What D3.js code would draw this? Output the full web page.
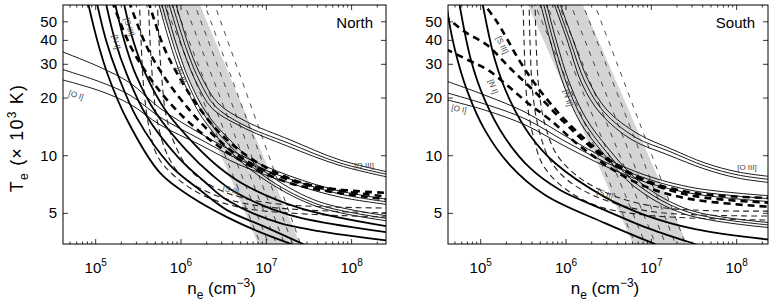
<!DOCTYPE html>
<html>
<head>
<meta charset="utf-8">
<script src="https://cdn.jsdelivr.net/npm/d3@7"></script>
<style>
body { margin: 0; background: #fff; }
svg { display: block; font-family: "Liberation Sans", Arial, Helvetica, sans-serif; }
</style>
</head>
<body>
<svg id="chart" width="774" height="307"></svg>
<script>
// values: [n_e (cm^-3), T_e (10^3 K)]
var tDomain = [3.46, 61.2];
var northDomain = [4.14e4, 2.53e8];
var southDomain = [4.14e4, 2.33e8];
var yTicks = [5, 10, 20, 30, 40, 50];
var xTickExps = [5, 6, 7, 8];

var northOIII = [
  [[7.83e5,73.5],[1.28e6,35.6],[1.81e6,24.9],[2.72e6,18.8],[5.62e6,15.2],[1.9e7,12.1],[7.31e7,9.5],[3e8,8.13]],
  [[7.05e5,73.5],[1.17e6,35.6],[1.67e6,24.3],[2.5e6,18.2],[5.19e6,14.6],[1.85e7,11.6],[7.31e7,9.16],[3e8,7.89]],
  [[6.49e5,73.5],[1.08e6,34.8],[1.54e6,23.7],[2.31e6,17.7],[4.92e6,14.3],[1.79e7,11.2],[7.31e7,8.89],[3e8,7.64]]
];
var northNII = [
  [[5.83e5,73.5],[8.51e5,40.2],[1.24e6,24.9],[2.07e6,16.3],[4.66e6,10.97],[1.17e7,7.74],[4.26e7,5.73],[3e8,4.81]],
  [[5.37e5,73.5],[7.83e5,40.2],[1.15e6,24.9],[1.91e6,16.1],[4.30e6,10.6],[1.10e7,7.46],[4.26e7,5.52],[3e8,4.67]],
  [[4.96e5,73.5],[7.23e5,40.2],[1.05e6,24.9],[1.76e6,15.9],[3.96e6,10.3],[1.05e7,7.29],[4.26e7,5.36],[3e8,4.53]]
];
var northSIII = [
  [[3.78e5,73.5],[6.15e5,37.8],[9.22e5,26.4],[1.54e6,18.4],[3.03e6,12.8],[8.0e6,9.16],[3.25e7,7.03],[3e8,6.38]],
  [[2.20e5,73.5],[3.89e5,37.8],[6.15e5,26.4],[1.05e6,19.1],[2.19e6,13.3],[5.62e6,9.5],[2.48e7,7.19],[3e8,6.08]],
  [[1.39e5,73.5],[2.52e5,37.8],[4.10e5,26.4],[7.43e5,18.8],[1.58e6,13.6],[4.30e6,9.84],[1.90e7,7.19],[3e8,5.87]]
];
var northSII = [
  [[5.24e5,73.5],[5.52e5,40.2],[5.98e5,24.9],[6.67e5,16.3],[8.51e5,11.4],[1.28e6,8.42],[2.86e6,6.62],[1.10e7,5.66],[3e8,5.33]],
  [[4.10e5,73.5],[4.33e5,40.2],[4.70e5,23.4],[5.24e5,15.4],[6.67e5,10.5],[9.73e5,8.02],[2.19e6,6.38],[8.43e6,5.46],[3e8,5.02]],
  [[3.22e5,73.5],[3.40e5,40.2],[3.68e5,22.0],[4.22e5,14.1],[5.37e5,9.84],[8.97e5,7.64],[1.91e6,6.15],[6.44e6,5.26],[3e8,4.78]]
];
var northNI = [
  [[1.98e5,73.5],[2.74e5,40.2],[3.89e5,26.4],[6.67e5,17.1],[1.46e6,11.4],[2.86e6,8.63],[5.62e6,7.03],[2.48e7,5.33],[3e8,4.24]],
  [[1.55e5,73.5],[2.15e5,40.2],[2.96e5,26.4],[5.09e5,16.7],[1.15e6,10.7],[2.31e6,7.93],[4.30e6,6.46],[1.90e7,4.90],[3e8,3.95]],
  [[1.22e5,73.5],[1.68e5,40.2],[2.33e5,26.4],[3.89e5,16.3],[9.22e5,9.84],[1.91e6,7.29],[3.46e6,5.87],[1.45e7,4.45],[3e8,3.58]],
  [[9.55e4,73.5],[1.32e5,40.2],[1.82e5,26.4],[3.05e5,15.7],[7.43e5,8.94],[1.67e6,6.62],[3.46e6,5.20],[9.66e6,4.25],[3.25e7,3.33]],
  [[7.50e4,73.5],[1.04e5,40.2],[1.39e5,26.4],[2.33e5,15.4],[5.68e5,8.13],[1.38e6,6.01],[3.46e6,4.78],[8.43e6,3.99],[2.48e7,3.33]]
];
var northOI = [
  [[3.33e4,36.1],[1.12e5,29.0],[2.52e5,24.0],[5.68e5,17.7],[1.67e6,13.1],[4.92e6,10.1],[1.90e7,7.83],[7.31e7,6.54],[3e8,5.87]],
  [[3.33e4,29.0],[1.12e5,24.3],[2.52e5,20.7],[5.68e5,15.9],[1.67e6,12.2],[4.92e6,9.5],[1.90e7,7.55],[7.31e7,6.31],[3e8,5.69]],
  [[3.33e4,25.5],[1.12e5,21.8],[2.52e5,18.6],[5.68e5,14.5],[1.67e6,11.4],[4.92e6,8.94],[1.90e7,7.19],[7.31e7,6.08],[3e8,5.52]]
];
// grey band: density at T = 65 and T = 3.3
var bandT = [65, 3.3];
var northBandLeft = [5.09e5, 8.37e6];
var northBandRight = [1.58e6, 2.60e7];
var northBandLines = [[6.15e5,8.91e6],[8.05e5,1.11e7],[1.05e6,1.37e7],[1.38e6,1.70e7],[1.81e6,2.11e7],[2.37e6,2.62e7]];
var northLabels = [
  ['[S III]', 2.46e5, 47.0, 72], ['[N I]', 1.73e5, 39.2, 78], ['[N II]', 1.0e6, 26.4, 72],
  ['[O I]', 5.88e4, 20.7, 18], ['[O III]', 1.40e8, 8.94, 0], ['[S II]', 3.85e6, 6.62, 15]
];

var southOIII = [
  [[7.43e5,73.5],[1.21e6,40.2],[1.81e6,24.9],[3.03e6,17.3],[6.98e6,13.0],[1.75e7,10.8],[4.26e7,9.16],[1.04e8,8.22],[2.8e8,7.74]],
  [[6.85e5,73.5],[1.11e6,40.2],[1.67e6,24.3],[2.79e6,16.9],[6.44e6,12.5],[1.66e7,10.5],[4.26e7,8.83],[1.04e8,7.93],[2.8e8,7.46]],
  [[6.32e5,73.5],[1.03e6,40.2],[1.54e6,23.7],[2.57e6,16.5],[5.94e6,12.1],[1.57e7,10.1],[4.26e7,8.51],[1.04e8,7.64],[2.8e8,7.19]]
];
var southNII = [
  [[5.37e5,73.5],[7.64e5,40.2],[1.11e6,23.7],[1.71e6,15.7],[3.10e6,10.97],[7.57e6,7.19],[2.84e7,5.20],[2.8e8,4.45]],
  [[4.96e5,73.5],[7.05e5,40.2],[1.03e6,23.4],[1.58e6,15.4],[2.86e6,10.7],[6.98e6,7.03],[2.69e7,5.08],[2.8e8,4.32]],
  [[4.57e5,73.5],[6.49e5,40.2],[9.48e5,23.1],[1.46e6,15.0],[2.64e6,10.5],[6.44e6,6.86],[2.48e7,4.95],[2.8e8,4.19]]
];
var southSIII = [
  [[8.13e4,73.5],[1.55e5,50.0],[2.89e5,31.0],[4.70e5,22.6],[9.73e5,15.4],[3.28e6,9.5],[8.43e6,7.46],[3.25e7,6.38],[2.8e8,6.01]],
  [[2.91e4,59.2],[6.55e4,44.3],[1.19e5,37.8],[2.20e5,28.7],[4.33e5,21.5],[8.51e5,15.7],[1.67e6,11.8],[3.75e6,8.94],[9.66e6,7.19],[3.25e7,6.15],[2.8e8,5.66]],
  [[2.91e4,38.4],[7.10e4,31.6],[1.22e5,28.0],[2.09e5,23.1],[3.59e5,18.8],[6.49e5,15.4],[1.67e6,10.7],[6.44e6,7.29],[2.48e7,6.01],[2.8e8,5.39]]
];
var southSII = [
  [[4.33e5,73.5],[4.45e5,40.2],[4.83e5,22.0],[5.68e5,14.5],[7.83e5,10.1],[1.46e6,7.64],[3.75e6,6.15],[1.45e7,5.33],[2.8e8,5.14]],
  [[3.68e5,73.5],[3.78e5,40.2],[4.10e5,20.7],[4.83e5,13.6],[6.49e5,9.5],[1.11e6,7.29],[2.86e6,5.87],[1.10e7,5.08],[2.8e8,4.84]],
  [[3.13e5,73.5],[3.22e5,40.2],[3.49e5,19.5],[4.10e5,12.8],[5.37e5,8.94],[9.22e5,6.86],[2.19e6,5.52],[8.43e6,4.90],[2.8e8,4.61]]
];
var southNI = [
  [[9.82e4,73.5],[1.47e5,31.6],[2.20e5,19.5],[3.78e5,12.8],[7.43e5,9.16],[2.86e6,6.08],[8.43e6,4.90],[3.25e7,4.14],[2.8e8,3.62]],
  [[5.27e4,73.5],[7.69e4,31.6],[1.12e5,19.5],[1.93e5,12.4],[3.78e5,8.63],[8.51e5,6.62],[2.86e6,5.20],[8.43e6,4.24],[3.25e7,3.46],[5.58e7,3.21]],
  [[3.81e4,73.5],[4.14e4,54.3],[5.0e4,35.6],[6.90e4,22.0],[1.12e5,13.6],[2.20e5,8.94],[5.68e5,6.24],[2.86e6,4.45],[1.10e7,3.46],[1.90e7,3.14]]
];
var southOI = [
  [[3.33e4,25.2],[1.12e5,20.7],[3.30e5,16.9],[9.73e5,12.7],[2.86e6,9.73],[8.43e6,7.93],[3.25e7,6.78],[2.8e8,6.15]],
  [[3.33e4,21.8],[1.12e5,18.6],[3.30e5,15.6],[9.73e5,11.9],[2.86e6,9.27],[8.43e6,7.64],[3.25e7,6.54],[2.8e8,5.94]],
  [[3.33e4,20.0],[1.12e5,17.3],[3.30e5,14.5],[9.73e5,11.2],[2.86e6,8.83],[8.43e6,7.29],[3.25e7,6.31],[2.8e8,5.73]]
];
var southBandLeft = [3.38e5, 6.38e6];
var southBandRight = [1.49e6, 2.74e7];
var southBandLines = [[4.10e5,6.79e6],[5.68e5,8.91e6],[7.83e5,1.17e7],[1.08e6,1.53e7],[1.50e6,2.0e7],[2.07e6,2.62e7]];
var southLabels = [
  ['[S III]', 1.78e5, 37.8, 65], ['[N I]', 1.39e5, 22.9, 70], ['[N II]', 1.05e6, 20.0, 75],
  ['[O I]', 5.57e4, 17.5, 12], ['[O III]', 1.32e8, 8.63, 0], ['[S II]', 2.86e6, 6.31, 20]
];

// line styles for each diagnostic
var styles = {
  OIII: { width: 0.9, dash: null, color: '#000' },
  NII:  { width: 0.9, dash: null, color: '#000' },
  OI:   { width: 0.9, dash: null, color: '#000' },
  NI:   { width: 1.8, dash: null, color: '#000' },
  SIII: { width: 2.6, dash: '7,5', color: '#000' },
  SII:  { width: 1.1, dash: '6,4', color: '#222' }
};

var panels = [
  { name: 'North', left: 63, right: 386, domain: northDomain,
    families: { OIII: northOIII, NII: northNII, OI: northOI, SII: northSII, NI: northNI, SIII: northSIII },
    bandLeft: northBandLeft, bandRight: northBandRight, bandLines: northBandLines, labels: northLabels },
  { name: 'South', left: 448, right: 768, domain: southDomain,
    families: { OIII: southOIII, NII: southNII, OI: southOI, SII: southSII, NI: southNI, SIII: southSIII },
    bandLeft: southBandLeft, bandRight: southBandRight, bandLines: southBandLines, labels: southLabels }
];

var plotTop = 5, plotBottom = 244;
var svg = d3.select('#chart');

function drawPanel(p) {
  var x = d3.scaleLog().domain(p.domain).range([p.left, p.right]);
  var y = d3.scaleLog().domain(tDomain).range([plotBottom, plotTop]);
  var g = svg.append('g');

  var clipId = 'clip-' + p.name;
  svg.append('clipPath').attr('id', clipId).append('rect')
    .attr('x', p.left).attr('y', plotTop).attr('width', p.right - p.left).attr('height', plotBottom - plotTop);
  var plot = g.append('g').attr('clip-path', 'url(#' + clipId + ')');

  var straight = d3.line().x(function(d) { return x(d[0]); }).y(function(d) { return y(d[1]); });
  var smooth = d3.line().x(function(d) { return x(d[0]); }).y(function(d) { return y(d[1]); })
    .curve(d3.curveCatmullRom.alpha(0.5));

  // grey band
  var poly = [[p.bandLeft[0], bandT[0]], [p.bandRight[0], bandT[0]], [p.bandRight[1], bandT[1]], [p.bandLeft[1], bandT[1]]];
  plot.append('path').attr('d', straight(poly) + 'Z').attr('fill', '#d4d4d4');

  p.bandLines.forEach(function(b) {
    plot.append('path')
      .attr('d', straight([[b[0], bandT[0]], [b[1], bandT[1]]]))
      .attr('fill', 'none').attr('stroke', '#222').attr('stroke-width', 0.8)
      .attr('stroke-dasharray', '5,6');
  });

  Object.keys(p.families).forEach(function(key) {
    var st = styles[key];
    p.families[key].forEach(function(curve) {
      var path = plot.append('path')
        .attr('d', smooth(curve))
        .attr('fill', 'none').attr('stroke', st.color).attr('stroke-width', st.width);
      if (st.dash) path.attr('stroke-dasharray', st.dash);
    });
  });

  // small labels on the curves
  p.labels.forEach(function(l) {
    plot.append('text')
      .attr('transform', 'translate(' + x(l[1]) + ',' + y(l[2]) + ') rotate(' + l[3] + ')')
      .attr('text-anchor', 'middle').attr('dominant-baseline', 'central')
      .attr('font-size', 8).attr('fill', '#444')
      .text(l[0]);
  });

  // box
  g.append('rect').attr('x', p.left).attr('y', plotTop)
    .attr('width', p.right - p.left).attr('height', plotBottom - plotTop)
    .attr('fill', 'none').attr('stroke', '#000').attr('stroke-width', 1);

  // x ticks, major and minor, bottom and top
  var ticks = [];
  for (var e = 4; e <= 8; e++) {
    for (var k = 1; k <= 9; k++) {
      var v = k * Math.pow(10, e);
      if (v >= p.domain[0] && v <= p.domain[1]) ticks.push({ v: v, major: k === 1 });
    }
  }
  ticks.forEach(function(t) {
    var len = t.major ? 5 : 2.5;
    var xx = x(t.v);
    g.append('line').attr('x1', xx).attr('x2', xx).attr('y1', plotBottom).attr('y2', plotBottom - len)
      .attr('stroke', '#000').attr('stroke-width', 0.8);
    g.append('line').attr('x1', xx).attr('x2', xx).attr('y1', plotTop).attr('y2', plotTop + len)
      .attr('stroke', '#000').attr('stroke-width', 0.8);
  });
  xTickExps.forEach(function(ex) {
    var t = g.append('text').attr('x', x(Math.pow(10, ex))).attr('y', 273)
      .attr('text-anchor', 'middle').attr('font-size', 15);
    t.append('tspan').text('10');
    t.append('tspan').attr('dy', -7).attr('font-size', 10).text(ex);
  });

  // y ticks
  yTicks.forEach(function(v) {
    var yy = y(v);
    g.append('line').attr('x1', p.left).attr('x2', p.left + 5).attr('y1', yy).attr('y2', yy)
      .attr('stroke', '#000').attr('stroke-width', 0.8);
    g.append('line').attr('x1', p.right - 5).attr('x2', p.right).attr('y1', yy).attr('y2', yy)
      .attr('stroke', '#000').attr('stroke-width', 0.8);
    g.append('text').attr('x', p.left - 6).attr('y', yy + 5)
      .attr('text-anchor', 'end').attr('font-size', 15).text(v);
  });

  // panel name
  g.append('text').attr('x', p.right - 13).attr('y', 28)
    .attr('text-anchor', 'end').attr('font-size', 15).text(p.name);

  // x axis title
  var xt = g.append('text').attr('x', (p.left + p.right) / 2 - 3).attr('y', 294)
    .attr('text-anchor', 'middle').attr('font-size', 17);
  xt.append('tspan').text('n');
  xt.append('tspan').attr('dy', 5).attr('font-size', 12).text('e');
  xt.append('tspan').attr('dy', -5).text(' (cm');
  xt.append('tspan').attr('dy', -7).attr('font-size', 12).text('\u22123');
  xt.append('tspan').attr('dy', 7).text(')');
}

panels.forEach(drawPanel);

// y axis title (left panel only)
var yt = svg.append('text').attr('transform', 'translate(23,138) rotate(-90)')
  .attr('text-anchor', 'middle').attr('font-size', 18).attr('letter-spacing', 1.2);
yt.append('tspan').text('T');
yt.append('tspan').attr('dy', 5).attr('font-size', 12).text('e');
yt.append('tspan').attr('dy', -5).text(' (\u00d7 10');
yt.append('tspan').attr('dy', -7).attr('font-size', 12).text('3');
yt.append('tspan').attr('dy', 7).text(' K)');
</script>
</body>
</html>
